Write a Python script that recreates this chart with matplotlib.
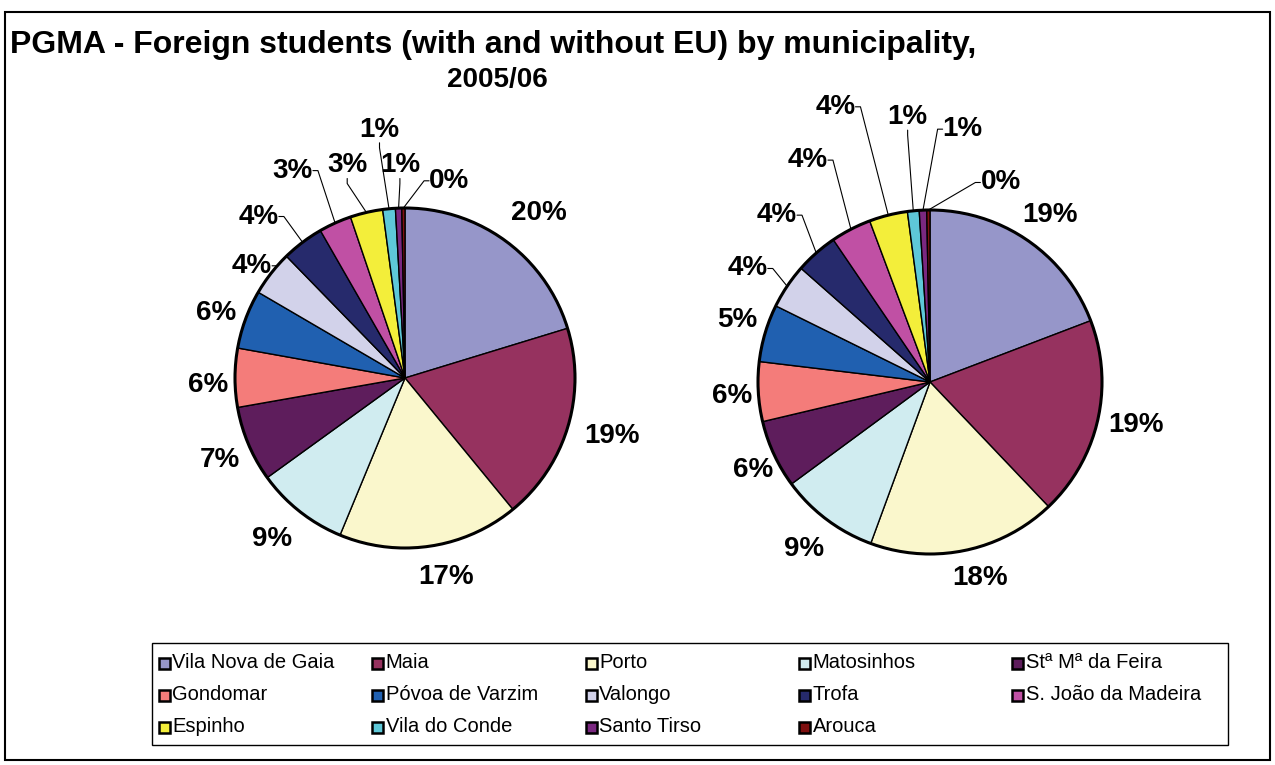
import math
import matplotlib
matplotlib.use("Agg")
import matplotlib.pyplot as plt
from matplotlib.patches import Rectangle, Circle

plt.rcParams['font.family'] = ['Liberation Sans', 'DejaVu Sans']

# ---- data -------------------------------------------------------------
municipalities = [
    "Vila Nova de Gaia", "Maia", "Porto", "Matosinhos", "Stª Mª da Feira",
    "Gondomar", "Póvoa de Varzim", "Valongo", "Trofa", "S. João da Madeira",
    "Espinho", "Vila do Conde", "Santo Tirso", "Arouca",
]
share_left = [20.3, 18.8, 17.2, 8.8, 7.2, 5.6, 5.6, 4.3, 4.0, 3.1, 3.1, 1.2, 0.6, 0.3]
share_right = [19.2, 18.7, 17.7, 9.3, 6.4, 5.6, 5.4, 4.2, 4.0, 3.8, 3.6, 1.1, 0.7, 0.3]

colors = [
    "#9696C9", "#96325F", "#FAF7CC", "#D0ECF0", "#5E1D5C",
    "#F47C7A", "#2060B0", "#D2D2EA", "#262A6C", "#C050A4",
    "#F3EE3A", "#5EC8D8", "#7A2880", "#7E1010",
]

title_line1 = "PGMA - Foreign students (with and without EU) by municipality,"
title_line2 = "2005/06"

# ---- layout -----------------------------------------------------------
W, H = 1275, 765
fig = plt.figure(figsize=(W / 100, H / 100), dpi=100)

# label positions in units of pie radius, relative to the pie centre
left_label_pos = [
    (0.79, 0.97), (1.22, -0.34), (0.24, -1.17), (-0.78, -0.95), (-1.09, -0.48),
    (-1.16, -0.04), (-1.11, 0.38), (-0.90, 0.66), (-0.86, 0.95), (-0.66, 1.22),
    (-0.34, 1.25), (-0.15, 1.46), (-0.03, 1.25), (0.26, 1.16),
]
right_label_pos = [
    (0.70, 0.97), (1.20, -0.25), (0.29, -1.14), (-0.73, -0.97), (-1.03, -0.51),
    (-1.15, -0.08), (-1.12, 0.36), (-1.06, 0.66), (-0.89, 0.97), (-0.71, 1.29),
    (-0.55, 1.60), (-0.13, 1.54), (0.19, 1.47), (0.41, 1.16),
]
# side of the label where a leader line leaves it (None = no leader)
left_leaders = [None] * 7 + ['r', 'r', 'r', 'b', 'b', 'b', 'l']
right_leaders = [None] * 7 + ['r', 'r', 'r', 'r', 'b', 'l', 'l']

LEADER_STYLE = {
    'r': dict(relpos=(1.0, 0.5), angleA=0),
    'l': dict(relpos=(0.0, 0.5), angleA=180),
    'b': dict(relpos=(0.5, 0.0), angleA=-90),
}

LABEL_SIZE = 20


def draw_pie(cx, cy, r, values, label_pos, leaders):
    span = 1.7
    ax = fig.add_axes([(cx - span * r) / W, (H - cy - span * r) / H,
                       2 * span * r / W, 2 * span * r / H])
    ax.patch.set_alpha(0)
    wedges, _ = ax.pie(values, colors=colors, startangle=90, counterclock=False,
                       radius=1.0, wedgeprops=dict(edgecolor='black', linewidth=1.0))
    ax.set_xlim(-span, span)
    ax.set_ylim(-span, span)
    ax.set_aspect('equal')
    ax.axis('off')
    ax.add_patch(Circle((0, 0), 1.0, fill=False, edgecolor='black', lw=2.2, zorder=5))
    total = sum(values)
    for w, v, (lx, ly), lead in zip(wedges, values, label_pos, leaders):
        pct = f"{round(100 * v / total):.0f}%"
        mid = math.radians((w.theta1 + w.theta2) / 2)
        ex, ey = math.cos(mid), math.sin(mid)
        if lead:
            st = LEADER_STYLE[lead]
            ax.annotate(pct, xy=(ex, ey), xytext=(lx, ly), ha='center', va='center',
                        fontsize=LABEL_SIZE, fontweight='bold',
                        arrowprops=dict(arrowstyle='-', color='black', lw=0.8,
                                        shrinkA=0, shrinkB=0, patchA=None,
                                        relpos=st['relpos'],
                                        connectionstyle=(f"arc,angleA={st['angleA']},"
                                                         "angleB=0,armA=5,armB=0,rad=0")))
        else:
            ax.text(lx, ly, pct, ha='center', va='center',
                    fontsize=LABEL_SIZE, fontweight='bold')
    return ax


draw_pie(405, 378, 170, share_left, left_label_pos, left_leaders)
draw_pie(930, 382, 172, share_right, right_label_pos, right_leaders)

# outer frame
fig.add_artist(Rectangle((5 / W, 5 / H), 1265 / W, (H - 17) / H, transform=fig.transFigure,
                         fill=False, edgecolor='black', lw=1.5))

# title
fig.text(10 / W, 1 - 45 / H, title_line1, ha='left', va='center',
         fontsize=23, fontweight='bold')
fig.text(497 / W, 1 - 80 / H, title_line2, ha='center', va='center',
         fontsize=20, fontweight='bold')

# legend box
lx0, ly0, lx1, ly1 = 152, 643, 1228, 745
fig.add_artist(Rectangle((lx0 / W, 1 - ly1 / H), (lx1 - lx0) / W, (ly1 - ly0) / H,
                         transform=fig.transFigure, fill=False, edgecolor='black', lw=1.0))
col_x = 164
col_dx = 213.5
row_y = 663
row_dy = 32
sq = 11
for i, (name, c) in enumerate(zip(municipalities, colors)):
    row, col = divmod(i, 5)
    x = col_x + col * col_dx
    y = row_y + row * row_dy
    fig.add_artist(Rectangle(((x - sq / 2) / W, 1 - (y + sq / 2) / H), sq / W, sq / H,
                             transform=fig.transFigure, facecolor=c, edgecolor='black', lw=1.8))
    fig.text((x + 8) / W, 1 - y / H, name, ha='left', va='center', fontsize=14.5)

fig.savefig("out.png", dpi=100)
